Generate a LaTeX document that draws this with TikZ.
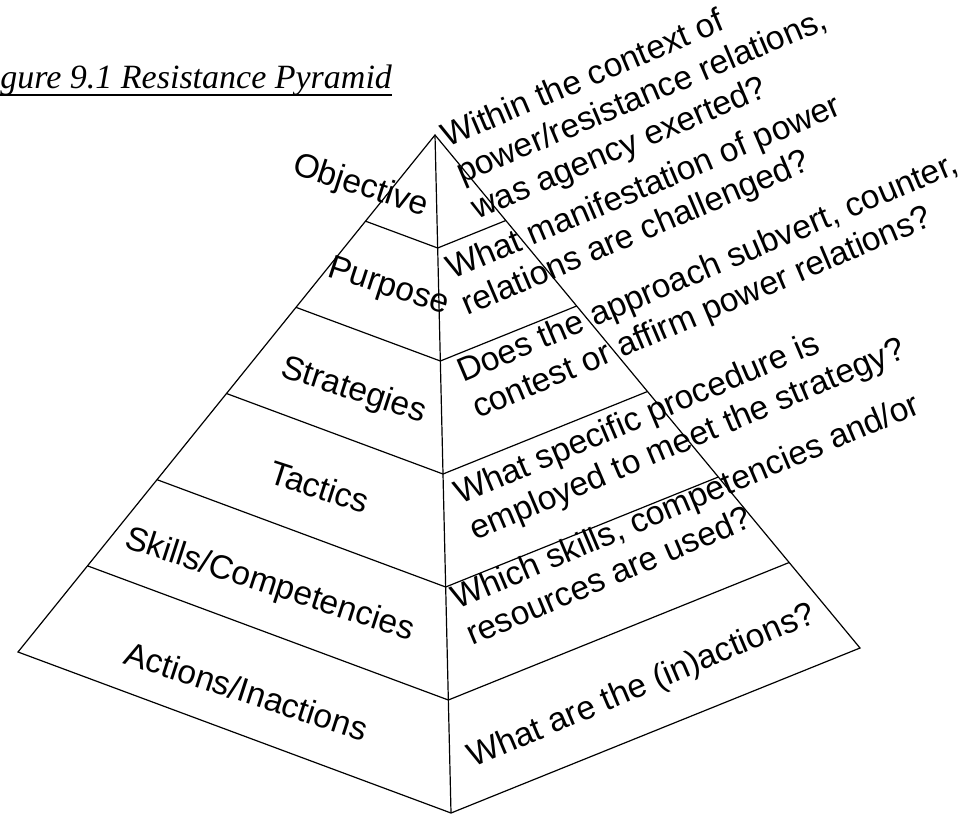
\documentclass[tikz,border=0pt]{standalone}
\usepackage{fontspec}
\setmainfont{Liberation Sans}
\newfontfamily\pyrtitlefont{Liberation Serif}
\usetikzlibrary{calc}
\newcommand\pyrtwo[2]{\vtop{\hbox{#1}\hbox{#2}}}
\newcommand\pyrthree[3]{\vtop{\hbox{#1}\hbox{#2}\hbox{#3}}}
\begin{document}
\begin{tikzpicture}[x=1pt,y=-1pt,
  edge/.style={line width=1.2pt, line join=miter},
  leftlab/.style={anchor=base west, rotate=-18, inner sep=0pt, font=\fontsize{33.5}{39}\selectfont},
  rightlab/.style={anchor=base west, rotate=23, inner sep=0pt, font=\fontsize{33.5}{39}\selectfont}]
\useasboundingbox (0,0) rectangle (976,817);
\clip (0,0) rectangle (976,817);
% title
\node[anchor=base west, inner sep=0pt, font=\pyrtitlefont\itshape\fontsize{34}{40}\selectfont] (title) at (-30,88) {Figure 9.1 Resistance Pyramid};
\draw[line width=1.3pt] ([yshift=-7pt]title.base west) -- ([yshift=-7pt]title.base east);
% pyramid corners
\coordinate (A) at (435,135);
\coordinate (Lc) at (18,652);
\coordinate (B) at (451,813);
\coordinate (Rc) at (860,648);
\foreach \k in {1,...,5}{
  \coordinate (L\k) at ($(A)!\k/6!(Lc)$);
  \coordinate (F\k) at ($(A)!\k/6!(B)$);
  \coordinate (R\k) at ($(A)!\k/6!(Rc)$);
}
\draw[edge] (A) -- (Lc) -- (B) -- (Rc) -- cycle;
\draw[edge] (A) -- (B);
\foreach \k in {1,...,5}{
  \draw[edge] (L\k) -- (F\k) -- (R\k);
}
% left face labels
\node[leftlab] (objective) at (291,173) {Objective};
\node[leftlab] (purpose) at (326,276) {Purpose};
\node[leftlab] (strategies) at (279,376) {Strategies};
\node[leftlab] (tactics) at (267,482) {Tactics};
\node[leftlab] (skills) at (123,547) {Skills/Competencies};
\node[leftlab] (actions) at (122,663) {Actions/Inactions};
% right face questions
\node[rightlab] (q1) at (447,148) {\pyrthree{Within the context of}{power/resistance relations,}{was agency exerted?}};
\node[rightlab] (q2) at (452,280) {\pyrtwo{What manifestation of power}{relations are challenged?}};
\node[rightlab] (q3) at (463,383) {\pyrtwo{Does the approach subvert, counter,}{contest or affirm power relations?}};
\node[rightlab] (q4) at (460,505) {\pyrtwo{What specific procedure is}{employed to meet the strategy?}};
\node[rightlab] (q5) at (457,610) {\pyrtwo{Which skills, competencies and/or}{resources are used?}};
\node[rightlab] (q6) at (473,768) {What are the (in)actions?};
\end{tikzpicture}
\end{document}
